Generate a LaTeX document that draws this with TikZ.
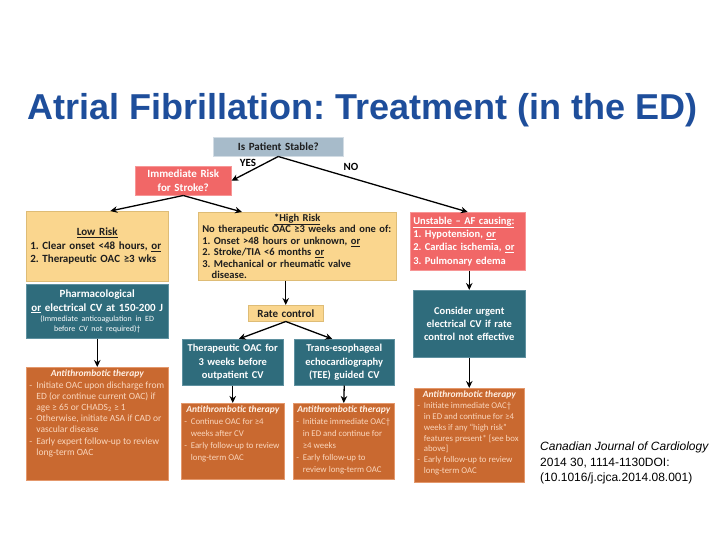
\documentclass[tikz,border=0pt]{standalone}
\usepackage{fontspec}
\setmainfont{Carlito}
\newfontfamily\arialfont{Liberation Sans}
\usetikzlibrary{arrows.meta,shadows,calc}
\frenchspacing
\definecolor{titleblue}{RGB}{30,78,155}
\definecolor{stablefill}{RGB}{167,187,202}
\definecolor{stableline}{RGB}{210,220,228}
\definecolor{redfill}{RGB}{241,103,103}
\definecolor{redline}{RGB}{247,150,150}
\definecolor{tanfill}{RGB}{250,214,142}
\definecolor{tanline}{RGB}{222,188,118}
\definecolor{tealfill}{RGB}{47,108,124}
\definecolor{tealline}{RGB}{95,145,160}
\definecolor{brownfill}{RGB}{201,105,48}
\definecolor{brownline}{RGB}{228,152,108}
\definecolor{darktext}{RGB}{30,30,30}
\definecolor{hdrtext}{RGB}{255,240,228}
\definecolor{itemtext}{RGB}{250,214,188}
\newcommand{\athdr}{\makebox[\linewidth]{\color{hdrtext}\bfseries\itshape\fontsize{9.5}{11}\selectfont Antithrombotic therapy}}
\newcommand{\atdash}{\makebox[0.75em][l]{-}}
\newcommand{\atind}{\hspace*{0.75em}}
\newcommand{\atl}[1]{\mbox{#1}}
\tikzset{
  bx/.style={draw, line width=0.5pt, inner xsep=4pt, inner ysep=2pt,
    font=\bfseries\fontsize{11}{13.5}\selectfont,
    drop shadow={opacity=0.3,shadow xshift=1.2pt,shadow yshift=-1.2pt}},
  graybox/.style={bx, fill=stablefill, draw=stableline, text=darktext},
  redbox/.style={bx, fill=redfill, draw=redline, text=white},
  tanbox/.style={bx, fill=tanfill, draw=tanline, text=darktext},
  tealbox/.style={bx, fill=tealfill, draw=tealline, text=white},
  brownbox/.style={bx, fill=brownfill, draw=brownline, text=itemtext,
    font=\fontsize{8.8}{12}\selectfont, inner xsep=3pt, inner ysep=3pt},
  arr/.style={-{Stealth[length=7pt,width=6.5pt]}, line width=1.3pt, black},
  lbl/.style={font=\bfseries\fontsize{11}{13}\selectfont, inner sep=0pt, text=black}
}
\begin{document}
\begin{tikzpicture}[x=1pt,y=-1pt]
\useasboundingbox (0,0) rectangle (720,540);
\fill[white] (0,0) rectangle (720,540);

\node[font=\arialfont\bfseries\fontsize{36}{40}\selectfont, text=titleblue, anchor=base, inner sep=0pt] (title) at (362.5,120) {Atrial Fibrillation: Treatment (in the ED)};

% top row
\node[graybox, text width=122pt, minimum width=130pt, minimum height=19pt, inner ysep=1pt, align=center, anchor=north west] (stable) at (213,137) {Is Patient Stable?};
\node[redbox, text width=88pt, minimum height=29pt, inner ysep=1pt, align=center, anchor=north west] (imm) at (135,166) {Immediate Risk\\for Stroke?};

% second row
\node[tanbox, text width=134pt, minimum height=70pt, align=left, anchor=north west] (low) at (26,211)
  {\makebox[\linewidth]{\underline{Low Risk}}\\
   1. Clear onset <48 hours, \underline{or}\\
   2. Therapeutic OAC ≥3 wks};
\node[tanbox, text width=190pt, minimum height=68pt, inner ysep=1pt, align=left, anchor=north west,
      font=\bfseries\fontsize{10.5}{11.4}\selectfont] (high) at (198,212)
  {\makebox[\linewidth]{\underline{*High Risk}}\\
   No therapeutic OAC ≥3 weeks and one of:\\
   1. Onset >48 hours or unknown, \underline{or}\\
   2. Stroke/TIA <6 months \underline{or}\\
   3. Mechanical or rheumatic valve\\
   \hspace*{0.9em}disease.};
\node[redbox, text width=109pt, inner xsep=3pt, minimum height=58pt, align=left, anchor=north west,
      font=\bfseries\fontsize{10.5}{13.3}\selectfont] (unst) at (410,212)
  {\underline{Unstable – AF causing:}\\
   1. Hypotension, \underline{or}\\
   2. Cardiac ischemia, \underline{or}\\
   3. Pulmonary edema};

% third row
\node[tealbox, text width=136pt, inner xsep=3pt, minimum height=54pt, align=center, anchor=north west] (pharm) at (26,284)
  {Pharmacological\\ \underline{or} electrical CV at 150-200 J\par
   {\mdseries\fontsize{8}{10}\selectfont (Immediate anticoagulation in ED\\ before CV not required)†\par}};
\node[tanbox, text width=67pt, minimum height=16pt, inner ysep=1pt, align=center, anchor=north west] (rate) at (248,305) {Rate control};
\node[tealbox, text width=97pt, inner xsep=2pt, minimum height=46pt, align=center, anchor=north west,
      font=\bfseries\fontsize{10.5}{13.3}\selectfont] (ther) at (182,339)
  {Therapeutic OAC for\\ 3 weeks before\\ outpatient CV};
\node[tealbox, text width=96pt, inner xsep=2pt, minimum height=46pt, align=center, anchor=north west,
      font=\bfseries\fontsize{10.5}{13.3}\selectfont] (tee) at (294,339)
  {Trans-esophageal\\ echocardiography\\ (TEE) guided CV};
\node[tealbox, text width=106pt, inner xsep=3pt, minimum height=67pt, align=center, anchor=north west,
      font=\bfseries\fontsize{10.5}{13.3}\selectfont] (cons) at (413,290)
  {Consider urgent\\ electrical CV if rate\\ control not effective};

% antithrombotic boxes
\node[brownbox, anchor=north west, font=\fontsize{9.5}{11.2}\selectfont] (atL) at (26,367)
  {\parbox[c][107pt][t]{136pt}{\raggedright\athdr\\
   \atl{\atdash Initiate OAC upon discharge from}\\
   \atl{\atind ED (or continue current OAC) if}\\
   \atl{\atind age ≥ 65 or CHADS\textsubscript{2} ≥ 1}\\
   \atl{\atdash Otherwise, initiate ASA if CAD or}\\
   \atl{\atind vascular disease}\\
   \atl{\atdash Early expert follow-up to review}\\
   \atl{\atind long-term OAC}}};
\node[brownbox, anchor=north west] (atM1) at (181,403)
  {\parbox[c][70pt][t]{97pt}{\raggedright\athdr\\
   \atl{\atdash Continue OAC for ≥4}\\
   \atl{\atind weeks after CV}\\
   \atl{\atdash Early follow-up to review}\\
   \atl{\atind long-term OAC}}};
\node[brownbox, anchor=north west] (atM2) at (293,403)
  {\parbox[c][70pt][t]{95pt}{\raggedright\athdr\\
   \atl{\atdash Initiate immediate OAC†}\\
   \atl{\atind in ED and continue for}\\
   \atl{\atind ≥4 weeks}\\
   \atl{\atdash Early follow-up to}\\
   \atl{\atind review long-term OAC}}};
\node[brownbox, anchor=north west, font=\fontsize{8.8}{10.8}\selectfont] (atR) at (414,388)
  {\parbox[c][88pt][t]{104pt}{\raggedright\athdr\\
   \atl{\atdash Initiate immediate OAC†}\\
   \atl{\atind in ED and continue for ≥4}\\
   \atl{\atind weeks if any “high risk”}\\
   \atl{\atind features present* [see box}\\
   \atl{\atind above]}\\
   \atl{\atdash Early follow-up to review}\\
   \atl{\atind long-term OAC}}};

% labels
\node[lbl] (yes) at (248,163) {YES};
\node[lbl] (no) at (351,167) {NO};

% connectors
\draw[arr] (stable.south) -- (imm.east);
\draw[arr] (stable.south) -- (unst.north);
\draw[arr] (imm.south) -- ($(low.north)+(13,0)$);
\draw[arr] (imm.south) -- ($(high.north west)+(44,0)$);
\draw[arr] (rate.north |- high.south) -- (rate.north);
\draw[arr] (rate.south) -- ($(ther.north)+(6,0)$);
\draw[arr] (rate.south) -- ($(tee.north)+(-12,0)$);
\draw[arr] (ther.south) -- (atM1.north);
\draw[arr] (tee.south) -- (atM2.north);
\draw[arr] (pharm.south) -- (atL.north);
\draw[arr] (cons.north |- unst.south) -- (cons.north);
\draw[arr] (atR.north |- cons.south) -- (atR.north);

% citation
\node[font=\arialfont\fontsize{12}{15.5}\selectfont, align=left, anchor=north west, inner sep=0pt] (cite) at (540,442)
  {\textit{Canadian Journal of Cardiology}\\2014 30, 1114-1130DOI:\\(10.1016/j.cjca.2014.08.001)};
\end{tikzpicture}
\end{document}
